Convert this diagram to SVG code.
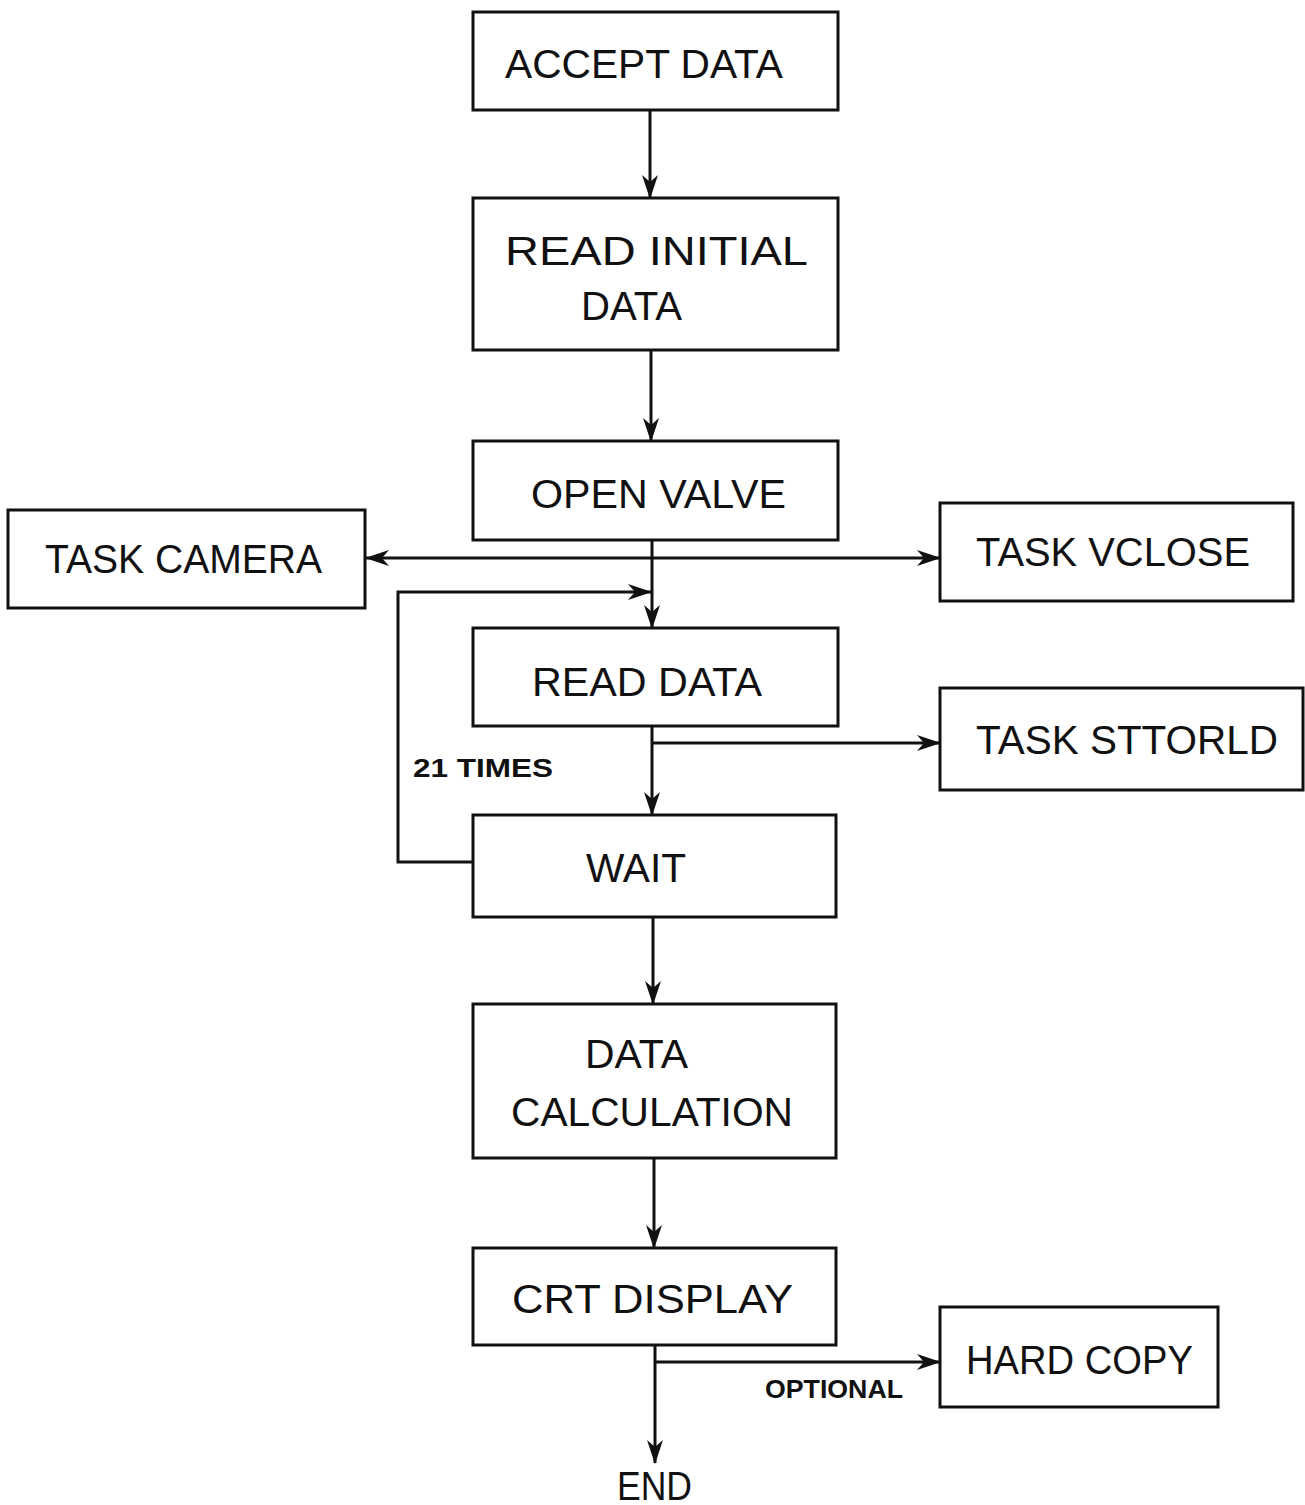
<svg xmlns="http://www.w3.org/2000/svg" width="1305" height="1505" viewBox="0 0 1305 1505">
<defs>
<style>
.box{fill:none;stroke:#111;stroke-width:3}
.t{font-family:"Liberation Sans",Arial,sans-serif;font-size:40px;fill:#111}
.l{font-family:"Liberation Sans",Arial,sans-serif;font-size:26px;font-weight:bold;fill:#111}
.c{fill:none;stroke:#111;stroke-width:3}
</style>
<marker id="a" markerWidth="24" markerHeight="18" refX="23" refY="9" orient="auto" markerUnits="userSpaceOnUse" viewBox="0 0 24 18">
<path d="M0,1 L24,9 L0,17 L7,9 Z" fill="#111"/>
</marker>
</defs>
<rect width="1305" height="1505" fill="#fff"/>
<g id="accept"><rect class="box" x="473" y="12" width="365" height="98"/><text class="t" x="505" y="78" textLength="278" lengthAdjust="spacingAndGlyphs">ACCEPT DATA</text></g>
<g id="readinit"><rect class="box" x="473" y="198" width="365" height="152"/><text class="t" x="505" y="265" textLength="303" lengthAdjust="spacingAndGlyphs">READ INITIAL</text><text class="t" x="581" y="320" textLength="101" lengthAdjust="spacingAndGlyphs">DATA</text></g>
<g id="openvalve"><rect class="box" x="473" y="441" width="365" height="99"/><text class="t" x="531" y="508" textLength="255" lengthAdjust="spacingAndGlyphs">OPEN VALVE</text></g>
<g id="camera"><rect class="box" x="8" y="510" width="357" height="98"/><text class="t" x="45" y="573" textLength="277" lengthAdjust="spacingAndGlyphs">TASK CAMERA</text></g>
<g id="vclose"><rect class="box" x="940" y="503" width="353" height="98"/><text class="t" x="976" y="566" textLength="274" lengthAdjust="spacingAndGlyphs">TASK VCLOSE</text></g>
<g id="readdata"><rect class="box" x="473" y="628" width="365" height="98"/><text class="t" x="532" y="696" textLength="230" lengthAdjust="spacingAndGlyphs">READ DATA</text></g>
<g id="sttorld"><rect class="box" x="940" y="688" width="363" height="102"/><text class="t" x="976" y="754" textLength="302" lengthAdjust="spacingAndGlyphs">TASK STTORLD</text></g>
<g id="wait"><rect class="box" x="473" y="815" width="363" height="102"/><text class="t" x="586" y="882" textLength="100" lengthAdjust="spacingAndGlyphs">WAIT</text></g>
<g id="calc"><rect class="box" x="473" y="1004" width="363" height="154"/><text class="t" x="585" y="1068" textLength="103" lengthAdjust="spacingAndGlyphs">DATA</text><text class="t" x="511" y="1126" textLength="282" lengthAdjust="spacingAndGlyphs">CALCULATION</text></g>
<g id="crt"><rect class="box" x="473" y="1248" width="363" height="97"/><text class="t" x="512" y="1313" textLength="281" lengthAdjust="spacingAndGlyphs">CRT DISPLAY</text></g>
<g id="hardcopy"><rect class="box" x="940" y="1307" width="278" height="100"/><text class="t" x="966" y="1374" textLength="227" lengthAdjust="spacingAndGlyphs">HARD COPY</text></g>
<g id="end"><text class="t" x="617" y="1500" textLength="75" lengthAdjust="spacingAndGlyphs">END</text></g>
<g id="connectors">
<path class="c" d="M650,110 V198" marker-end="url(#a)"/>
<path class="c" d="M651,350 V441" marker-end="url(#a)"/>
<path class="c" d="M652,540 V628" marker-end="url(#a)"/>
<path class="c" d="M652,558 H366" marker-end="url(#a)"/>
<path class="c" d="M652,558 H940" marker-end="url(#a)"/>
<path class="c" d="M473,862 H398 V592 H651" marker-end="url(#a)"/>
<path class="c" d="M652,726 V815" marker-end="url(#a)"/>
<path class="c" d="M652,743 H940" marker-end="url(#a)"/>
<path class="c" d="M653,917 V1004" marker-end="url(#a)"/>
<path class="c" d="M654,1158 V1248" marker-end="url(#a)"/>
<path class="c" d="M655,1345 V1463" marker-end="url(#a)"/>
<path class="c" d="M655,1362 H940" marker-end="url(#a)"/>
</g>
<text class="l" x="413" y="777" textLength="140" lengthAdjust="spacingAndGlyphs">21 TIMES</text>
<text class="l" x="765" y="1398" textLength="138" lengthAdjust="spacingAndGlyphs">OPTIONAL</text>
</svg>
